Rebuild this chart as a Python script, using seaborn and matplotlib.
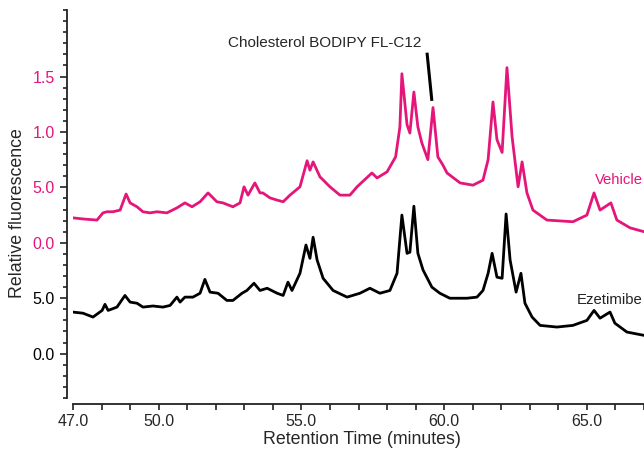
import numpy as np
import pandas as pd
import matplotlib
matplotlib.use("Agg")
import matplotlib.pyplot as plt
import seaborn as sns

PINK = "#e5157a"

# retention time (minutes) and offset fluorescence
vehicle_t = [47.00, 47.35, 47.84, 48.05, 48.19, 48.40, 48.65, 48.86, 49.00, 49.24,
             49.45, 49.70, 49.94, 50.29, 50.64, 50.92, 51.17, 51.45, 51.73, 52.04,
             52.25, 52.60, 52.85, 52.99, 53.13, 53.37, 53.55, 53.65, 53.90, 54.15,
             54.36, 54.60, 54.95, 55.20, 55.30, 55.41, 55.65, 56.00, 56.35, 56.70,
             56.95, 57.47, 57.65, 58.00, 58.30, 58.45, 58.52, 58.70, 58.80, 58.94,
             59.08, 59.22, 59.43, 59.61, 59.78, 59.96, 60.10, 60.56, 61.01, 61.36,
             61.54, 61.71, 61.85, 62.03, 62.20, 62.38, 62.59, 62.73, 62.90, 63.11,
             63.60, 64.51, 65.00, 65.25, 65.46, 65.84, 66.05, 66.51, 67.00]
vehicle_y = [2.45, 2.43, 2.41, 2.54, 2.56, 2.56, 2.59, 2.88, 2.72, 2.65,
             2.56, 2.54, 2.56, 2.54, 2.63, 2.72, 2.65, 2.74, 2.90, 2.74,
             2.72, 2.65, 2.72, 3.01, 2.86, 3.08, 2.90, 2.90, 2.81, 2.77,
             2.74, 2.86, 3.01, 3.48, 3.31, 3.46, 3.19, 3.01, 2.86, 2.86,
             3.01, 3.26, 3.17, 3.28, 3.55, 4.09, 5.05, 4.13, 3.98, 4.72,
             4.09, 3.80, 3.50, 4.44, 3.55, 3.40, 3.26, 3.08, 3.04, 3.13,
             3.50, 4.54, 3.86, 3.63, 5.16, 3.91, 3.01, 3.46, 2.90, 2.59,
             2.41, 2.38, 2.50, 2.90, 2.59, 2.72, 2.41, 2.27, 2.20]

ezetimibe_t = [47.00, 47.35, 47.70, 48.02, 48.12, 48.23, 48.54, 48.82, 49.00, 49.24,
               49.45, 49.80, 50.15, 50.40, 50.64, 50.75, 50.92, 51.20, 51.45, 51.62,
               51.80, 52.08, 52.39, 52.60, 52.92, 53.09, 53.34, 53.55, 53.80, 54.15,
               54.36, 54.53, 54.67, 54.95, 55.16, 55.30, 55.41, 55.55, 55.76, 56.11,
               56.60, 57.05, 57.40, 57.75, 58.10, 58.35, 58.52, 58.70, 58.80, 58.94,
               59.08, 59.26, 59.57, 59.85, 60.20, 60.80, 61.15, 61.36, 61.54, 61.68,
               61.85, 62.03, 62.17, 62.31, 62.52, 62.69, 62.83, 63.08, 63.36, 63.95,
               64.51, 65.00, 65.25, 65.46, 65.81, 65.98, 66.40, 67.00]
ezetimibe_y = [0.75, 0.73, 0.66, 0.78, 0.89, 0.78, 0.84, 1.05, 0.93, 0.91,
               0.84, 0.86, 0.84, 0.87, 1.02, 0.93, 1.02, 1.02, 1.09, 1.34,
               1.11, 1.09, 0.96, 0.96, 1.09, 1.14, 1.27, 1.14, 1.18, 1.09,
               1.05, 1.29, 1.14, 1.45, 1.96, 1.72, 2.10, 1.69, 1.36, 1.14,
               1.02, 1.09, 1.18, 1.09, 1.14, 1.45, 2.50, 1.81, 1.83, 2.66,
               1.81, 1.51, 1.20, 1.09, 1.00, 1.00, 1.02, 1.14, 1.45, 1.81,
               1.38, 1.36, 2.52, 1.69, 1.11, 1.45, 0.91, 0.66, 0.51, 0.48,
               0.51, 0.60, 0.78, 0.64, 0.75, 0.55, 0.39, 0.33]

ytick_pos = [0, 1, 2, 3, 4, 5]
ytick_labels = ["0.0", "5.0", "0.0", "5.0", "1.0", "1.5"]
ytick_colors = ["black", "black", PINK, PINK, PINK, PINK]
xtick_pos = [47, 50, 55, 60, 65]
xtick_labels = ["47.0", "50.0", "55.0", "60.0", "65.0"]

sns.set_theme(style="ticks")
plt.rcParams["font.family"] = ["Liberation Sans", "DejaVu Sans"]

fig = plt.figure(figsize=(6.44, 4.51), dpi=100)
ax = fig.add_axes([73 / 644, 53 / 451, 571 / 644, 388 / 451])

veh = pd.DataFrame({"t": vehicle_t, "y": vehicle_y})
eze = pd.DataFrame({"t": ezetimibe_t, "y": ezetimibe_y})
sns.lineplot(data=veh, x="t", y="y", color=PINK, lw=2.0, estimator=None, sort=False, ax=ax)
sns.lineplot(data=eze, x="t", y="y", color="black", lw=2.0, estimator=None, sort=False, ax=ax)

ax.set_xlim(47, 67)
ax.set_ylim(-0.8, 6.2)

ax.set_xticks(xtick_pos, xtick_labels)
ax.set_xticks(np.arange(47, 68, 1), minor=True)
ax.set_yticks(ytick_pos, ytick_labels)
ax.set_yticks(np.arange(-0.8, 6.21, 0.2), minor=True)

ax.tick_params(axis="both", which="major", labelsize=11.5, width=1.2, color="#222222")
ax.tick_params(axis="y", which="major", length=5, pad=4)
ax.tick_params(axis="y", which="minor", length=3, width=1.2, color="#222222")
ax.tick_params(axis="x", which="major", length=4, pad=3)
ax.tick_params(axis="x", which="minor", length=4, width=1.2, color="#222222")

for side in ["top", "right"]:
    ax.spines[side].set_visible(False)
ax.spines["left"].set_position(("outward", 4))
ax.spines["bottom"].set_position(("outward", 4.5))
for side in ["left", "bottom"]:
    ax.spines[side].set_linewidth(1.3)
    ax.spines[side].set_color("#222222")

ax.set_xlabel("Retention Time (minutes)", fontsize=12.8)
ax.xaxis.set_label_coords(0.5056, -0.108)
ax.xaxis.label.set_va("center")
ax.set_ylabel("Relative fluorescence", fontsize=12.8)
ax.yaxis.set_label_coords(-0.098, 0.477)
ax.yaxis.label.set_va("center")

ax.text(55.83, 5.60, "Cholesterol BODIPY FL-C12", fontsize=11, ha="center", va="center")
ax.plot([59.40, 59.57], [5.43, 4.56], color="black", lw=2.2, solid_capstyle="butt")
ax.text(65.28, 3.13, "Vehicle", fontsize=10.7, color=PINK, ha="left", va="center")
ax.text(64.65, 0.96, "Ezetimibe", fontsize=10.7, color="#222222", ha="left", va="center")

# colour the y labels once the ticks exist for good
fig.canvas.draw()
colour_of = dict(zip(ytick_pos, ytick_colors))
for tick in ax.yaxis.get_major_ticks():
    loc = int(round(tick.get_loc()))
    if loc in colour_of:
        tick.label1.set_color(colour_of[loc])

fig.savefig("out.png", dpi=100)
